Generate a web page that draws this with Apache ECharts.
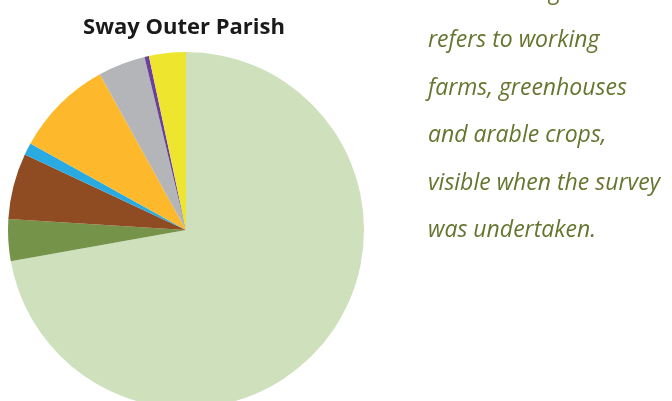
<!DOCTYPE html>
<html>
<head>
<meta charset="utf-8">
<script src="https://cdn.jsdelivr.net/npm/echarts@6/dist/echarts.min.js"></script>
<style>html,body{margin:0;padding:0;background:#fff;}#c{width:672px;height:401px;}</style>
</head>
<body>
<div id="c"></div>
<script>
const categories = ['Light green', 'Dark green', 'Brown', 'Blue', 'Orange', 'Grey', 'Purple', 'Yellow'];
const values = [72.3, 3.8, 6.0, 1.1, 8.9, 4.3, 0.4, 3.35];
const colors = ['#CFE0BD', '#76934A', '#8F4B22', '#29ABE2', '#FDB92B', '#B3B5B8', '#6B3FA0', '#EEE62E'];
const titleText = 'Sway Outer Parish';
const noteLines = ['Land holding', 'refers to working', 'farms, greenhouses', 'and arable crops,', 'visible when the survey', 'was undertaken.'];

const chart = echarts.init(document.getElementById('c'));
const graphics = noteLines.map((t, i) => ({
  type: 'text',
  x: 428,
  y: -19.5 + i * 47.5 + (i > 0 ? 1 : 0),
  style: {
    text: t,
    fill: '#66752F',
    font: 'italic 23px "Open Sans", sans-serif',
    align: 'left',
    verticalAlign: 'top'
  },
  silent: true
}));
chart.setOption({
  animation: false,
  title: {
    text: titleText,
    left: 179,
    top: 12,
    textAlign: 'center',
    textStyle: { fontFamily: 'Open Sans', fontWeight: 'bold', fontSize: 22, color: '#1a1a1a' }
  },
  graphic: graphics,
  series: [{
    type: 'pie',
    center: [186, 230],
    radius: [0, 178],
    startAngle: 90,
    clockwise: true,
    label: { show: false },
    labelLine: { show: false },
    itemStyle: { borderWidth: 0 },
    emphasis: { disabled: true },
    data: categories.map((c, i) => ({ name: c, value: values[i], itemStyle: { color: colors[i] } }))
  }]
});
</script>
</body>
</html>
